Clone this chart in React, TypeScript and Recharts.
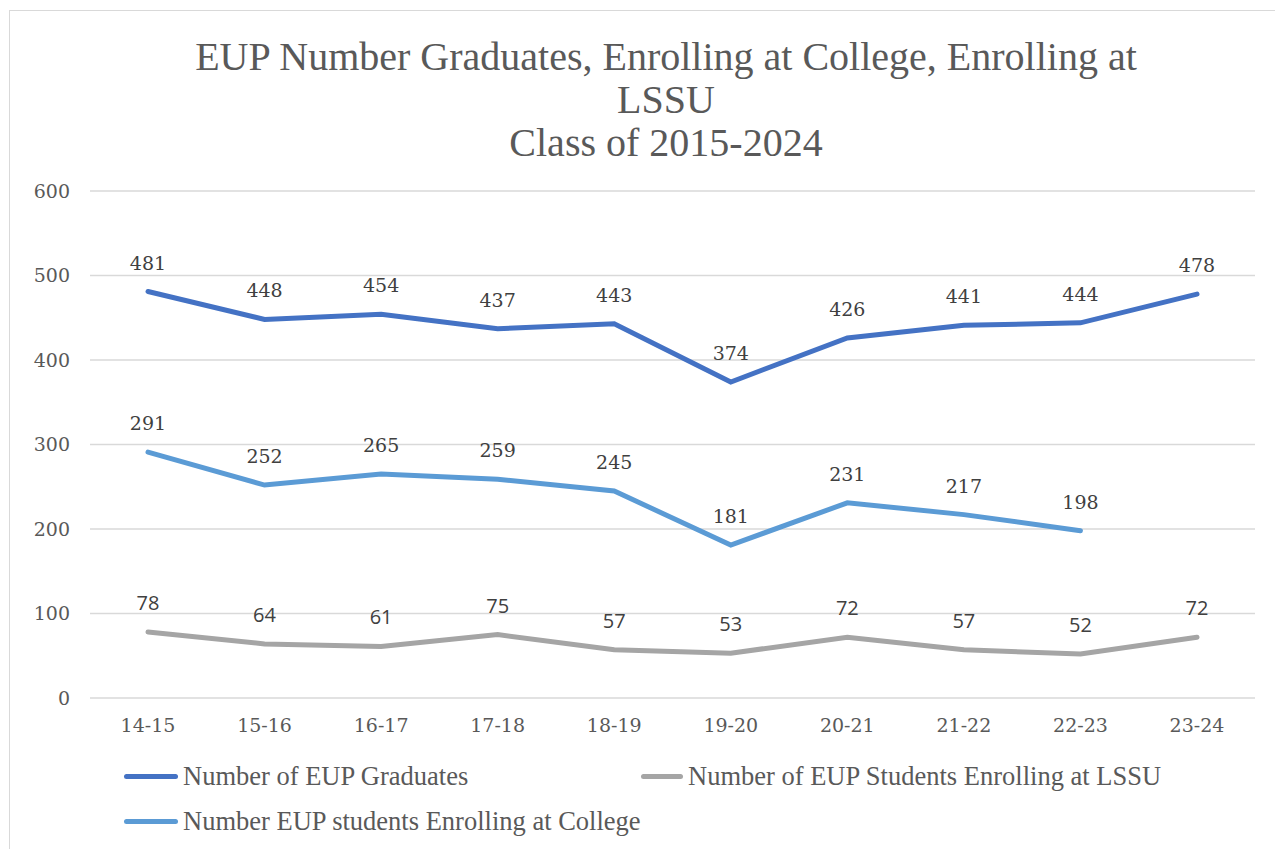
import { LineChart, Line, XAxis, YAxis, CartesianGrid, LabelList } from 'recharts';

const years = ['14-15', '15-16', '16-17', '17-18', '18-19', '19-20', '20-21', '21-22', '22-23', '23-24'];
const graduates = [481, 448, 454, 437, 443, 374, 426, 441, 444, 478];
const college = [291, 252, 265, 259, 245, 181, 231, 217, 198, null];
const lssu = [78, 64, 61, 75, 57, 53, 72, 57, 52, 72];
const yTicks = [0, 100, 200, 300, 400, 500, 600];

const data = years.map((y, i) => ({
    year: y,
    grads: graduates[i],
    college: college[i],
    lssu: lssu[i],
}));

const serif = '"Liberation Serif", "DejaVu Serif", serif';
const numSerif = '"DejaVu Serif", serif';
const sans = '"Open Sans", "Noto Sans", sans-serif';

const legend = [
    { label: 'Number of EUP Graduates', color: '#4472C4', left: 124, top: 776, line: 54 },
    { label: 'Number of EUP Students Enrolling at LSSU', color: '#A5A5A5', left: 641, top: 776, line: 42 },
    { label: 'Number EUP students Enrolling at College', color: '#5B9BD5', left: 124, top: 821, line: 54 },
];

export default function App() {
    return (
        <div style={{ position: 'absolute', left: 0, top: 0, width: 1275, height: 849, background: '#fff', overflow: 'hidden' }}>
            <div style={{ position: 'absolute', left: 9, top: 10, width: 1290, height: 900, border: '1px solid #d9d9d9' }} />
            <div style={{
                position: 'absolute', left: 116, top: 35, width: 1100, textAlign: 'center',
                fontFamily: serif, fontSize: 40, lineHeight: '43px', color: '#595959'
            }}>
                EUP Number Graduates, Enrolling at College, Enrolling at<br />LSSU<br />Class of 2015-2024
            </div>
            <div style={{ position: 'absolute', left: 0, top: 0 }}>
                <LineChart width={1275} height={849} data={data} margin={{ top: 191, right: 20, bottom: 111, left: 0 }}>
                    <CartesianGrid vertical={false} stroke="#d9d9d9" strokeWidth={1.5} />
                    <XAxis
                        dataKey="year"
                        axisLine={false}
                        tickLine={false}
                        height={40}
                        tickMargin={15}
                        padding={{ left: 58, right: 58 }}
                        tick={{ fill: '#595959', fontSize: 19, fontFamily: numSerif }}
                    />
                    <YAxis
                        domain={[0, 600]}
                        ticks={yTicks}
                        axisLine={false}
                        tickLine={false}
                        width={90}
                        tickMargin={14}
                        tick={{ fill: '#595959', fontSize: 19, fontFamily: numSerif }}
                    />
                    <Line type="linear" dataKey="grads" stroke="#4472C4" strokeWidth={5} dot={false} isAnimationActive={false} strokeLinecap="round">
                        <LabelList dataKey="grads" position="top" offset={22} fill="#404040" fontSize={19} fontFamily={numSerif} />
                    </Line>
                    <Line type="linear" dataKey="lssu" stroke="#A5A5A5" strokeWidth={5} dot={false} isAnimationActive={false} strokeLinecap="round">
                        <LabelList dataKey="lssu" position="top" offset={22} fill="#404040" fontSize={20} fontFamily={sans} />
                    </Line>
                    <Line type="linear" dataKey="college" stroke="#5B9BD5" strokeWidth={5} dot={false} isAnimationActive={false} strokeLinecap="round">
                        <LabelList dataKey="college" position="top" offset={22} fill="#404040" fontSize={19} fontFamily={numSerif} />
                    </Line>
                </LineChart>
            </div>
            {legend.map((l) => (
                <div key={l.label} style={{ position: 'absolute', left: l.left, top: l.top - 16, height: 32, display: 'flex', alignItems: 'center' }}>
                    <div style={{ width: l.line, height: 5, borderRadius: 3, background: l.color, marginRight: 5 }} />
                    <span style={{ fontFamily: serif, fontSize: 26.5, color: '#595959', whiteSpace: 'nowrap' }}>{l.label}</span>
                </div>
            ))}
        </div>
    );
}
